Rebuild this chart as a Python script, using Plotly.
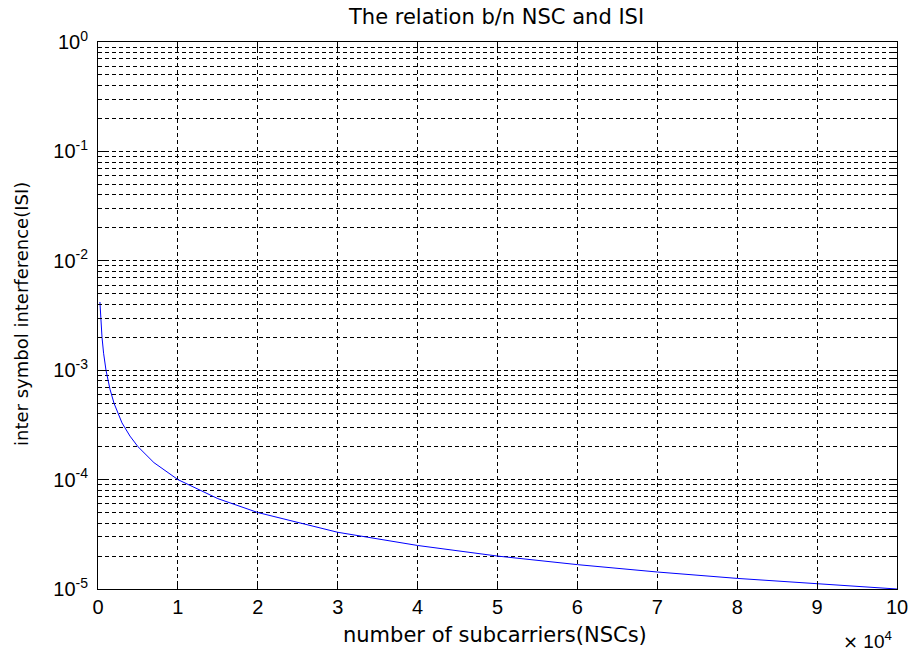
import plotly.graph_objects as go

# Values
nsc = [240, 300, 400, 500, 700, 1000, 1500, 2000, 3000, 4000, 5000, 7000,
       10000, 15000, 20000, 30000, 40000, 50000, 60000, 70000, 80000, 90000, 100000]
isi = [4.2e-3, 3.3e-3, 2.5e-3, 2.0e-3, 1.43e-3, 1.0e-3, 6.7e-4, 5.0e-4, 3.3e-4, 2.5e-4,
       2.0e-4, 1.43e-4, 1.0e-4, 6.7e-5, 5.0e-5, 3.3e-5, 2.5e-5, 2.0e-5, 1.67e-5,
       1.43e-5, 1.25e-5, 1.11e-5, 1.0e-5]

x_tickvals = [0, 10000, 20000, 30000, 40000, 50000, 60000, 70000, 80000, 90000, 100000]
x_ticktext = ["0", "1", "2", "3", "4", "5", "6", "7", "8", "9", "10"]
y_tickvals = [1e-5, 1e-4, 1e-3, 1e-2, 1e-1, 1e0]
y_ticktext = ["10<sup>-5</sup>", "10<sup>-4</sup>", "10<sup>-3</sup>",
              "10<sup>-2</sup>", "10<sup>-1</sup>", "10<sup>0</sup>"]
y_minor = [m * 10 ** e for e in range(-5, 0) for m in range(2, 10)]

title_text = "The relation b/n NSC and ISI"
x_title = "number of subcarriers(NSCs)"
y_title = "inter symbol interference(ISI)"
x_scale = "<span style='font-family:DejaVu Sans;font-size:18px'>×</span> 10<sup>4</sup>"

FONT = "DejaVu Sans, Arial, sans-serif"
TICKFONT = "Liberation Sans, Arial, sans-serif"
W, H = 914, 653
# plot area in page pixels: x 98..897, y 42..589
L, R, T, B = 98, 914 - 897, 42, 653 - 589
pw, ph = W - L - R, H - T - B

fig = go.Figure()
fig.add_trace(go.Scatter(x=nsc, y=isi, mode="lines",
                         line=dict(color="#0000ff", width=1), showlegend=False))

grid = dict(showgrid=True, gridcolor="#000000", gridwidth=1, griddash="4px,3px")

fig.update_layout(
    width=W, height=H, autosize=False,
    margin=dict(l=L, r=R, t=T, b=B, autoexpand=False),
    paper_bgcolor="white", plot_bgcolor="white",
    font=dict(family=FONT, size=20, color="black"),
    xaxis=dict(range=[0, 100000], tickmode="array", tickvals=x_tickvals, ticktext=x_ticktext,
               ticks="inside", ticklen=8, tickcolor="black", showline=True, linecolor="black",
               linewidth=1, mirror="ticks", zeroline=False, automargin=False, **grid,
               tickfont=dict(family=TICKFONT, size=20)),
    yaxis=dict(type="log", range=[-5, 0], tickmode="array", tickvals=y_tickvals,
               ticktext=y_ticktext, ticks="inside", ticklen=8, tickcolor="black",
               showline=True, linecolor="black", linewidth=1, mirror="ticks",
               zeroline=False, automargin=False, ticklabelstandoff=5, **grid,
               tickfont=dict(family=TICKFONT, size=20),
               minor=dict(tickmode="array", tickvals=y_minor, ticks="inside", ticklen=4,
                          tickcolor="black", showgrid=True, gridcolor="#000000",
                          gridwidth=1, griddash="4px,3px")),
)

def py(page_y):
    return (589 - page_y) / ph

def px(page_x):
    return (page_x - 98) / pw

fig.add_annotation(text=title_text, xref="paper", yref="paper", x=px(496), y=py(17),
                   showarrow=False, font=dict(size=21), xanchor="center", yanchor="middle")
fig.add_annotation(text=x_title, xref="paper", yref="paper", x=px(495), y=py(635),
                   showarrow=False, font=dict(size=21), xanchor="center", yanchor="middle")
fig.add_annotation(text=y_title, xref="paper", yref="paper", x=px(21), y=py(314),
                   textangle=-90, showarrow=False, font=dict(size=18),
                   xanchor="center", yanchor="middle")
fig.add_annotation(text=x_scale, xref="paper", yref="paper", x=px(894), y=py(640),
                   showarrow=False, font=dict(family=TICKFONT, size=19),
                   xanchor="right", yanchor="middle")

fig.write_html("out.html", config={"displayModeBar": False},
               post_script="document.body.style.margin='0';")
